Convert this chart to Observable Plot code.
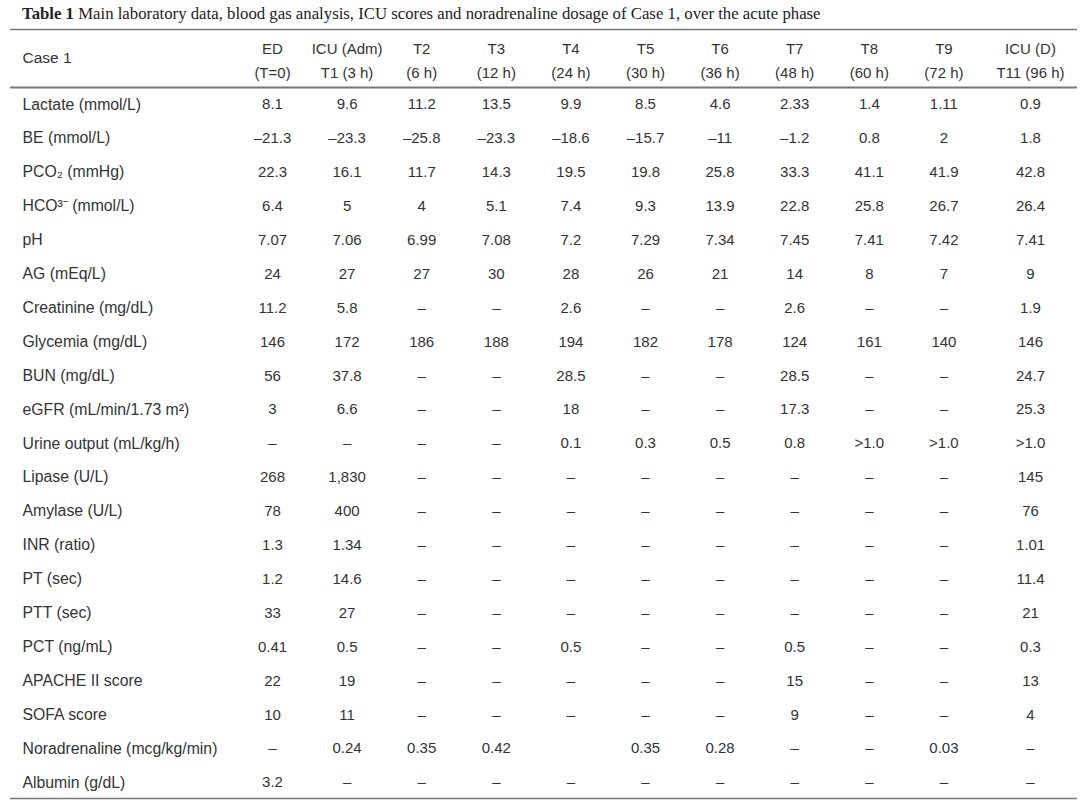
<!DOCTYPE html>
<html><head><meta charset="utf-8">
<script src="https://cdn.jsdelivr.net/npm/d3@7"></script>
<script src="https://cdn.jsdelivr.net/npm/@observablehq/plot@0.6"></script>
<style>
html,body{margin:0;padding:0;background:#fff;overflow:hidden;}
#title{font-family:"Liberation Serif",serif;font-size:16.75px;color:#222;height:24px;line-height:27px;padding-left:22px;white-space:nowrap;}
#chart{height:782px;}
#chart svg{display:block;}
</style></head><body>
<div id="title"><b>Table 1</b> Main laboratory data, blood gas analysis, ICU scores and noradrenaline dosage of Case 1, over the acute phase</div>
<div id="chart"></div>
<script>
const columns = ["ED\n(T=0)", "ICU (Adm)\nT1 (3 h)", "T2\n(6 h)", "T3\n(12 h)", "T4\n(24 h)", "T5\n(30 h)", "T6\n(36 h)", "T7\n(48 h)", "T8\n(60 h)", "T9\n(72 h)", "ICU (D)\nT11 (96 h)"];
const rowLabels = ["Lactate (mmol/L)", "BE (mmol/L)", "PCO₂ (mmHg)", "HCO³⁻ (mmol/L)", "pH", "AG (mEq/L)", "Creatinine (mg/dL)", "Glycemia (mg/dL)", "BUN (mg/dL)", "eGFR (mL/min/1.73 m²)", "Urine output (mL/kg/h)", "Lipase (U/L)", "Amylase (U/L)", "INR (ratio)", "PT (sec)", "PTT (sec)", "PCT (ng/mL)", "APACHE II score", "SOFA score", "Noradrenaline (mcg/kg/min)", "Albumin (g/dL)"];
const lactate = ["8.1", "9.6", "11.2", "13.5", "9.9", "8.5", "4.6", "2.33", "1.4", "1.11", "0.9"];
const be = ["–21.3", "–23.3", "–25.8", "–23.3", "–18.6", "–15.7", "–11", "–1.2", "0.8", "2", "1.8"];
const pco2 = ["22.3", "16.1", "11.7", "14.3", "19.5", "19.8", "25.8", "33.3", "41.1", "41.9", "42.8"];
const hco3 = ["6.4", "5", "4", "5.1", "7.4", "9.3", "13.9", "22.8", "25.8", "26.7", "26.4"];
const ph = ["7.07", "7.06", "6.99", "7.08", "7.2", "7.29", "7.34", "7.45", "7.41", "7.42", "7.41"];
const ag = ["24", "27", "27", "30", "28", "26", "21", "14", "8", "7", "9"];
const creatinine = ["11.2", "5.8", "–", "–", "2.6", "–", "–", "2.6", "–", "–", "1.9"];
const glycemia = ["146", "172", "186", "188", "194", "182", "178", "124", "161", "140", "146"];
const bun = ["56", "37.8", "–", "–", "28.5", "–", "–", "28.5", "–", "–", "24.7"];
const egfr = ["3", "6.6", "–", "–", "18", "–", "–", "17.3", "–", "–", "25.3"];
const urine = ["–", "–", "–", "–", "0.1", "0.3", "0.5", "0.8", ">1.0", ">1.0", ">1.0"];
const lipase = ["268", "1,830", "–", "–", "–", "–", "–", "–", "–", "–", "145"];
const amylase = ["78", "400", "–", "–", "–", "–", "–", "–", "–", "–", "76"];
const inr = ["1.3", "1.34", "–", "–", "–", "–", "–", "–", "–", "–", "1.01"];
const pt = ["1.2", "14.6", "–", "–", "–", "–", "–", "–", "–", "–", "11.4"];
const ptt = ["33", "27", "–", "–", "–", "–", "–", "–", "–", "–", "21"];
const pct = ["0.41", "0.5", "–", "–", "0.5", "–", "–", "0.5", "–", "–", "0.3"];
const apache = ["22", "19", "–", "–", "–", "–", "–", "15", "–", "–", "13"];
const sofa = ["10", "11", "–", "–", "–", "–", "–", "9", "–", "–", "4"];
const noradrenaline = ["–", "0.24", "0.35", "0.42", "", "0.35", "0.28", "–", "–", "0.03", "–"];
const albumin = ["3.2", "–", "–", "–", "–", "–", "–", "–", "–", "–", "–"];

const values = [lactate, be, pco2, hco3, ph, ag, creatinine, glycemia, bun, egfr, urine, lipase, amylase, inr, pt, ptt, pct, apache, sofa, noradrenaline, albumin];
const cells = [];
rowLabels.forEach((r, i) => values[i].forEach((v, j) => cells.push({row: i, col: j, v})));
const lastCol = columns.length - 1;
const lastRow = rowLabels.length - 1;
const ink = "#333";
const ruleColor = "#777";

const chart = Plot.plot({
  width: 1080, height: 782,
  marginTop: 5, marginBottom: 8, marginLeft: 10, marginRight: 3,
  x: {type: "linear", domain: [0, lastCol], range: [272, 1018], axis: null},
  y: {type: "linear", domain: [0, lastRow], range: [80, 758], axis: null},
  style: {fontFamily: "'Liberation Sans', Arial, sans-serif", fontSize: "15px", color: ink, background: "#fff", overflow: "visible"},
  marks: [
    Plot.ruleY([0], {dy: -75, stroke: ruleColor, strokeWidth: 1.5}),
    Plot.ruleY([0], {dy: -17, stroke: ruleColor, strokeWidth: 2}),
    Plot.ruleY([lastRow], {dy: 16, stroke: ruleColor, strokeWidth: 1.5}),
    Plot.text(["Case 1"], {y: () => 0, frameAnchor: "left", dx: 12, dy: -46, textAnchor: "start", fill: ink, fontSize: 15.5}),
    Plot.text(columns.slice(0, -1), {x: (d, i) => i, y: () => 0, dy: -46, lineHeight: 1.55, fill: ink, fontSize: 15}),
    Plot.text([columns[lastCol]], {x: () => lastCol, y: () => 0, dx: 12, dy: -46, lineHeight: 1.55, fill: ink, fontSize: 15}),
    Plot.text(rowLabels, {y: (d, i) => i, frameAnchor: "left", dx: 12, textAnchor: "start", fill: ink, fontSize: 15.8}),
    Plot.text(cells.filter(d => d.col !== lastCol), {x: "col", y: "row", text: "v", fill: ink, fontSize: 15}),
    Plot.text(cells.filter(d => d.col === lastCol), {x: "col", y: "row", text: "v", dx: 12, fill: ink, fontSize: 15})
  ]
});
document.getElementById("chart").appendChild(chart);
</script>
</body></html>
